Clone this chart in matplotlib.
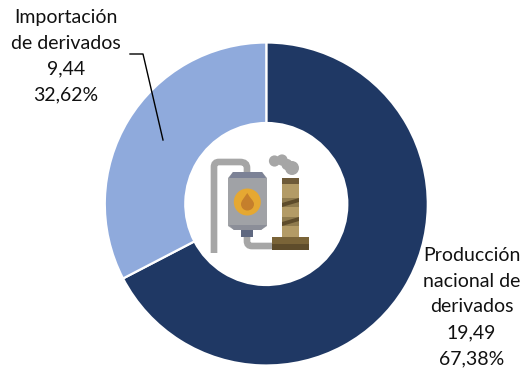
import matplotlib
matplotlib.use('Agg')
import matplotlib.pyplot as plt
from matplotlib.patches import Circle, Polygon, Rectangle, PathPatch
from matplotlib.path import Path

categories = ['Producción\nnacional de\nderivados', 'Importación\nde derivados']
values = [19.49, 9.44]
shares = [67.38, 32.62]
colors = ['#1F3864', '#8FAADC']

W, H = 522, 372
plt.rcParams['font.family'] = ['Lato', 'DejaVu Sans']

fig = plt.figure(figsize=(W / 100, H / 100), dpi=100)
ax = fig.add_axes([0, 0, 1, 1])
ax.set_xlim(0, W)
ax.set_ylim(H, 0)
ax.axis('off')


def flip(y):
    # the pie is drawn in a y-up helper axes, everything else uses y-down pixels
    return H - y


pie_ax = fig.add_axes([0, 0, 1, 1], zorder=0)
ax.set_zorder(1)
ax.patch.set_alpha(0)

pie_ax.pie(values, colors=colors, startangle=90, counterclock=False,
           center=(266.3, flip(204)), radius=161.5, frame=True,
           wedgeprops=dict(width=80.5, edgecolor='white', linewidth=1.6))
pie_ax.set_xlim(0, W)
pie_ax.set_ylim(0, H)
pie_ax.set_aspect('auto')
pie_ax.axis('off')


def label(i):
    return f"{categories[i]}\n{values[i]:.2f}\n{shares[i]:.2f}%".replace('.', ',')


ax.text(471.5, 307, label(0), ha='center', va='center', fontsize=14,
        linespacing=1.63, color='#111111')
ax.text(66, 56, label(1), ha='center', va='center', fontsize=14,
        linespacing=1.63, color='#111111')
ax.plot([130, 143, 163], [54, 54, 140], color='black', lw=1.0)

# refinery icon in the middle of the ring
GREY = '#A6A6A6'
pipe = Path([(214, 253), (214, 167), (214, 162), (219, 162), (240, 162),
             (247, 162), (247, 168), (247, 174)],
            [Path.MOVETO, Path.LINETO, Path.CURVE3, Path.CURVE3, Path.LINETO,
             Path.CURVE3, Path.CURVE3, Path.LINETO])
ax.add_patch(PathPatch(pipe, fc='none', ec=GREY, lw=4.8, capstyle='butt'))
low_pipe = Path([(247, 235), (247, 241), (247, 246), (252, 246), (274, 246)],
                [Path.MOVETO, Path.LINETO, Path.CURVE3, Path.CURVE3, Path.LINETO])
ax.add_patch(PathPatch(low_pipe, fc='none', ec=GREY, lw=4.8, capstyle='butt'))

ax.add_patch(Polygon([(233, 172), (262, 172), (267, 178), (267, 226),
                      (261, 230), (234, 230), (228, 226), (228, 178)],
                     fc='#A0A2A6', ec='none'))
ax.add_patch(Polygon([(233, 172), (262, 172), (266, 178), (229, 178)],
                     fc='#7C8296', ec='none'))
ax.add_patch(Polygon([(229, 225), (267, 225), (261, 230), (234, 230)],
                     fc='#8B8E98', ec='none'))
ax.add_patch(Rectangle((241, 230), 12, 7, fc='#5F6880', ec='none'))
ax.add_patch(Circle((247.3, 202), 13.5, fc='#E5A832', ec='none'))
drop = Path([(247.3, 193), (244, 198), (241, 201), (241, 204),
             (241, 208), (244, 210.5), (247.3, 210.5),
             (251, 210.5), (254, 208), (254, 204),
             (254, 201), (250, 198), (247.3, 193)],
            [Path.MOVETO] + [Path.CURVE4] * 12)
ax.add_patch(PathPatch(drop, fc='#C57F2C', ec='none'))

# chimney and base
ax.add_patch(Rectangle((282, 178), 17, 60, fc='#B39B66', ec='none'))
ax.add_patch(Rectangle((282, 178), 17, 6, fc='#6E5A38', ec='none'))
for top in (198, 217):
    ax.add_patch(Rectangle((282, top), 17, 9, fc='#8F7B4E', ec='none'))
    ax.add_patch(Polygon([(282, top + 9), (282, top + 5), (299, top),
                          (299, top + 4)], fc='#5E4C2B', ec='none'))
ax.add_patch(Rectangle((272, 237), 36.5, 7, fc='#7A6438', ec='none'))
ax.add_patch(Rectangle((272, 243.5), 36.5, 6, fc='#5E4C2B', ec='none'))

# smoke
for cx, cy, r in [(274.5, 161, 5.6), (282, 160, 5.6), (287, 164.5, 5.6), (292, 168, 7)]:
    ax.add_patch(Circle((cx, cy), r, fc=GREY, ec='none'))

fig.savefig('out.png', dpi=100, facecolor='white')
